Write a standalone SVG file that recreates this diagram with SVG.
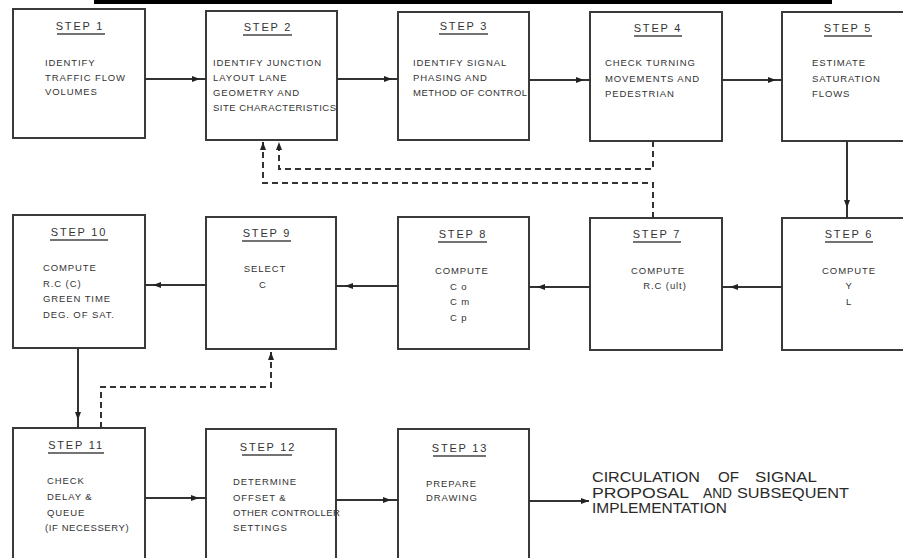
<svg xmlns="http://www.w3.org/2000/svg" width="903" height="558" viewBox="0 0 903 558">
<style>
.box{fill:none;stroke:#3a3a3a;stroke-width:2}
.t{font-family:"Liberation Sans","DejaVu Sans",sans-serif;font-size:11px;letter-spacing:1.8px;fill:#333;text-anchor:middle}
.ul{stroke:#444;stroke-width:1.3}
.b{font-family:"Liberation Sans","DejaVu Sans",sans-serif;font-size:9.5px;letter-spacing:0.9px;fill:#333}
.c{text-anchor:middle}
.ln{fill:none;stroke:#333;stroke-width:2}
.ds{fill:none;stroke:#333;stroke-width:2;stroke-dasharray:6 4}
.big{font-family:"Liberation Sans","DejaVu Sans",sans-serif;font-size:14.5px;fill:#2a2a2a}
</style>
<defs>
<marker id="ah" markerUnits="userSpaceOnUse" markerWidth="10" markerHeight="8" refX="8" refY="3" orient="auto">
<path d="M0,0 L8,3 L0,6 z" fill="#222"/>
</marker>
</defs>
<rect width="903" height="558" fill="#ffffff"/>
<rect x="94" y="0" width="738" height="4" fill="#000"/>

<g id="step1">
<rect class="box" x="13" y="9" width="132" height="129"/>
<text class="t" x="80" y="30">STEP 1</text><line class="ul" x1="57" y1="34" x2="105" y2="34"/>
<text class="b" x="45" y="66">IDENTIFY</text>
<text class="b" x="45" y="81">TRAFFIC FLOW</text>
<text class="b" x="45" y="95">VOLUMES</text>
</g>
<g id="step2">
<rect class="box" x="206" y="11" width="131" height="129"/>
<text class="t" x="268" y="31">STEP 2</text><line class="ul" x1="243" y1="35" x2="292" y2="35"/>
<text class="b" x="213" y="66">IDENTIFY JUNCTION</text>
<text class="b" x="213" y="81">LAYOUT LANE</text>
<text class="b" x="213" y="96">GEOMETRY AND</text>
<text class="b" x="213" y="111" style="letter-spacing:0.5px">SITE CHARACTERISTICS</text>
</g>
<g id="step3">
<rect class="box" x="398" y="12" width="131" height="128"/>
<text class="t" x="464" y="30">STEP 3</text><line class="ul" x1="439" y1="34" x2="488" y2="34"/>
<text class="b" x="413" y="66">IDENTIFY SIGNAL</text>
<text class="b" x="413" y="81">PHASING AND</text>
<text class="b" x="413" y="96" style="letter-spacing:0.5px">METHOD OF CONTROL</text>
</g>
<g id="step4">
<rect class="box" x="590" y="12" width="132" height="129"/>
<text class="t" x="658" y="32">STEP 4</text><line class="ul" x1="634" y1="36" x2="682" y2="36"/>
<text class="b" x="605" y="66">CHECK TURNING</text>
<text class="b" x="605" y="82">MOVEMENTS AND</text>
<text class="b" x="605" y="97">PEDESTRIAN</text>
</g>
<g id="step5">
<rect class="box" x="782" y="12" width="130" height="129"/>
<text class="t" x="848" y="32">STEP 5</text><line class="ul" x1="824" y1="36" x2="872" y2="36"/>
<text class="b" x="812" y="66">ESTIMATE</text>
<text class="b" x="812" y="82">SATURATION</text>
<text class="b" x="812" y="97">FLOWS</text>
</g>

<g id="step10">
<rect class="box" x="13" y="215" width="132" height="133"/>
<text class="t" x="79" y="236">STEP 10</text><line class="ul" x1="50" y1="240" x2="108" y2="240"/>
<text class="b" x="43" y="271">COMPUTE</text>
<text class="b" x="43" y="287">R.C (C)</text>
<text class="b" x="43" y="302">GREEN TIME</text>
<text class="b" x="43" y="318">DEG. OF SAT.</text>
</g>
<g id="step9">
<rect class="box" x="206" y="217" width="130" height="132"/>
<text class="t" x="267" y="237">STEP 9</text><line class="ul" x1="242" y1="241" x2="291" y2="241"/>
<text class="b c" x="265" y="272">SELECT</text>
<text class="b c" x="263" y="288">C</text>
</g>
<g id="step8">
<rect class="box" x="398" y="217" width="131" height="132"/>
<text class="t" x="463" y="238">STEP 8</text><line class="ul" x1="438" y1="242" x2="487" y2="242"/>
<text class="b" x="435" y="274">COMPUTE</text>
<text class="b" x="450" y="290">C o</text>
<text class="b" x="450" y="305">C m</text>
<text class="b" x="450" y="321">C p</text>
</g>
<g id="step7">
<rect class="box" x="590" y="218" width="132" height="132"/>
<text class="t" x="657" y="238">STEP 7</text><line class="ul" x1="633" y1="242" x2="681" y2="242"/>
<text class="b c" x="658" y="274">COMPUTE</text>
<text class="b c" x="665" y="289">R.C (ult)</text>
</g>
<g id="step6">
<rect class="box" x="782" y="218" width="130" height="132"/>
<text class="t" x="849" y="238">STEP 6</text><line class="ul" x1="825" y1="242" x2="873" y2="242"/>
<text class="b c" x="849" y="274">COMPUTE</text>
<text class="b c" x="849" y="289">Y</text>
<text class="b c" x="849" y="305">L</text>
</g>

<g id="step11">
<rect class="box" x="13" y="428" width="132" height="140"/>
<text class="t" x="76" y="449">STEP 11</text><line class="ul" x1="48" y1="453" x2="104" y2="453"/>
<text class="b" x="47" y="484">CHECK</text>
<text class="b" x="47" y="500">DELAY &amp;</text>
<text class="b" x="47" y="516">QUEUE</text>
<text class="b" x="45" y="531" style="letter-spacing:0.6px">(IF NECESSERY)</text>
</g>
<g id="step12">
<rect class="box" x="206" y="429" width="130" height="140"/>
<text class="t" x="268" y="451">STEP 12</text><line class="ul" x1="242" y1="455" x2="292" y2="455"/>
<text class="b" x="233" y="485">DETERMINE</text>
<text class="b" x="233" y="501">OFFSET &amp;</text>
<text class="b" x="233" y="516" style="letter-spacing:0.4px">OTHER CONTROLLER</text>
<text class="b" x="233" y="531">SETTINGS</text>
</g>
<g id="step13">
<rect class="box" x="398" y="429" width="131" height="140"/>
<text class="t" x="460" y="452">STEP 13</text><line class="ul" x1="433" y1="456" x2="486" y2="456"/>
<text class="b" x="426" y="487">PREPARE</text>
<text class="b" x="426" y="501">DRAWING</text>
</g>

<g id="outcome">
<text class="big" x="592" y="482" textLength="108" lengthAdjust="spacingAndGlyphs">CIRCULATION</text>
<text class="big" x="718" y="482" textLength="21" lengthAdjust="spacingAndGlyphs">OF</text>
<text class="big" x="755" y="482" textLength="62" lengthAdjust="spacingAndGlyphs">SIGNAL</text>
<text class="big" x="592" y="498" textLength="97" lengthAdjust="spacingAndGlyphs">PROPOSAL</text>
<text class="big" x="703" y="498" textLength="29" lengthAdjust="spacingAndGlyphs">AND</text>
<text class="big" x="737" y="498" textLength="112" lengthAdjust="spacingAndGlyphs">SUBSEQUENT</text>
<text class="big" x="592" y="513" textLength="135" lengthAdjust="spacingAndGlyphs">IMPLEMENTATION</text>
</g>

<g id="connectors">
<path class="ln" d="M145,79 L200,79 L206,79" marker-mid="url(#ah)"/>
<path class="ln" d="M337,79 L392,79 L398,79" marker-mid="url(#ah)"/>
<path class="ln" d="M529,80 L584,80 L590,80" marker-mid="url(#ah)"/>
<path class="ln" d="M722,80 L776,80 L782,80" marker-mid="url(#ah)"/>
<path class="ln" d="M847,141 L847,208 L847,218" marker-mid="url(#ah)"/>
<path class="ln" d="M782,287 L730,287 L722,287" marker-mid="url(#ah)"/>
<path class="ln" d="M590,287 L537,287 L529,287" marker-mid="url(#ah)"/>
<path class="ln" d="M398,286 L345,286 L336,286" marker-mid="url(#ah)"/>
<path class="ln" d="M206,285 L153,285 L145,285" marker-mid="url(#ah)"/>
<path class="ln" d="M78,348 L78,420 L78,428" marker-mid="url(#ah)"/>
<path class="ln" d="M145,498 L199,498 L206,498" marker-mid="url(#ah)"/>
<path class="ln" d="M336,500 L391,500 L398,500" marker-mid="url(#ah)"/>
<path class="ln" d="M529,501 L589,501" marker-end="url(#ah)"/>
<path class="ds" d="M653,141 V169 H279 V142" marker-end="url(#ah)"/>
<path class="ds" d="M653,218 V183 H263 V142" marker-end="url(#ah)"/>
<path class="ds" d="M101,428 V387 H271 V352" marker-end="url(#ah)"/>
</g>
</svg>
